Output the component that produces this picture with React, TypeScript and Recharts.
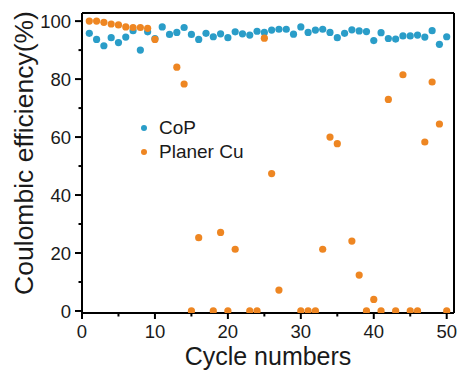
import { ScatterChart, Scatter, XAxis, YAxis, ReferenceLine, Label } from "recharts";

const FONT = "'Liberation Sans', Arial, sans-serif";
const BLUE = "#2a9dc8";
const ORANGE = "#ee8622";

const copCycles = [
  1, 2, 3, 4, 5, 6, 7, 8, 9, 10, 11, 12, 13, 14, 15, 16, 17, 18, 19, 20, 21, 22, 23, 24, 25,
  26, 27, 28, 29, 30, 31, 32, 33, 34, 35, 36, 37, 38, 39, 40, 41, 42, 43, 44, 45, 46, 47, 48, 49, 50,
];
const copEfficiency = [
  95.8, 93.7, 91.5, 94.3, 92.6, 94.5, 96.7, 90, 96.3, 94, 98, 95.4, 96.1, 97.8, 95.4, 93.7, 95.8,
  94.6, 95.6, 94.3, 96.3, 95.6, 95.2, 96.5, 96.1, 96.9, 97.2, 97.2, 95.5, 98, 96.1, 96.9, 97.2, 96.1,
  94.3, 95.8, 97, 96.6, 96.4, 93.3, 96, 94, 93.8, 94.9, 94.9, 95.2, 94.5, 96.7, 92, 94.6,
];

const cuCycles = [
  1, 2, 3, 4, 5, 6, 7, 8, 9, 10, 13, 14, 15, 16, 18, 19, 20, 21, 23, 24, 25, 26, 27,
  30, 31, 32, 33, 34, 35, 37, 38, 39, 40, 41, 42, 43, 44, 45, 46, 47, 48, 49, 50,
];
const cuEfficiency = [
  100, 100, 99.6, 99, 98.7, 98, 97.8, 97.8, 97.5, 93.7, 84.1, 78.3, 0, 25.3, 0, 27.1, 0, 21.3, 0, 0,
  94.1, 47.4, 7.2, 0, 0, 0, 21.3, 60, 57.7, 24.1, 12.4, 0, 4, 0, 73, 0, 81.5, 0, 0, 58.3, 79, 64.5, 0,
];

const seriesNames = ["CoP", "Planer Cu"];
const seriesColors = [BLUE, ORANGE];

const xTicks = [0, 5, 10, 15, 20, 25, 30, 35, 40, 45, 50];
const yTicks = [0, 10, 20, 30, 40, 50, 60, 70, 80, 90, 100];

const X_MAX = 51;
const Y_MIN = -0.7;
const Y_MAX = 102.8;

const copData = copCycles.map((c, i) => ({ cycle: c, value: copEfficiency[i] }));
const cuData = cuCycles.map((c, i) => ({ cycle: c, value: cuEfficiency[i] }));

const dot = (color: string) => (props: any) => (
  <circle cx={props.cx} cy={props.cy} r={3.6} fill={color} />
);

const XTick = ({ x, y, payload }: any) => {
  const major = payload.value % 10 === 0;
  return (
    <g>
      <line x1={x} x2={x} y1={y} y2={y + (major ? 6 : 3.5)} stroke="#000" strokeWidth={2} />
      {major && (
        <text x={x} y={y + 25} textAnchor="middle" fontSize={18.5} fontFamily={FONT} fill="#1a1a1a">
          {payload.value}
        </text>
      )}
    </g>
  );
};

const YTick = ({ x, y, payload }: any) => {
  const major = payload.value % 20 === 0;
  return (
    <g>
      <line x1={x - (major ? 7 : 3.5)} x2={x} y1={y} y2={y} stroke="#000" strokeWidth={2} />
      {major && (
        <text x={x - 11} y={y} dy="0.36em" textAnchor="end" fontSize={18.5} fontFamily={FONT} fill="#1a1a1a">
          {payload.value}
        </text>
      )}
    </g>
  );
};

export default function App() {
  return (
    <div style={{ position: "absolute", left: 0, top: 0, width: 457, height: 371, background: "#fff" }}>
      <ScatterChart width={457} height={371} margin={{ top: 13, right: 3, bottom: 0, left: 0 }}>
        <XAxis
          type="number"
          dataKey="cycle"
          domain={[0, X_MAX]}
          ticks={xTicks}
          interval={0}
          height={58}
          tickLine={false}
          tickSize={0}
          tickMargin={0}
          tick={<XTick />}
          axisLine={{ stroke: "#000", strokeWidth: 2 }}
          allowDataOverflow
        >
          <Label
            content={() => (
              <text x={268} y={365} textAnchor="middle" fontSize={25} fontFamily={FONT} fill="#1a1a1a">
                Cycle numbers
              </text>
            )}
          />
        </XAxis>
        <YAxis
          type="number"
          dataKey="value"
          domain={[Y_MIN, Y_MAX]}
          ticks={yTicks}
          interval={0}
          width={82}
          tickLine={false}
          tickSize={0}
          tickMargin={0}
          tick={<YTick />}
          axisLine={{ stroke: "#000", strokeWidth: 2 }}
          allowDataOverflow
        >
          <Label
            content={() => (
              <text
                x={33}
                y={153}
                textAnchor="middle"
                transform="rotate(-90, 33, 153)"
                fontSize={26.5}
                fontFamily={FONT}
                fill="#1a1a1a"
              >
                Coulombic efficiency(%)
              </text>
            )}
          />
        </YAxis>
        <ReferenceLine y={Y_MAX} stroke="#000" strokeWidth={2} />
        <ReferenceLine x={X_MAX} stroke="#000" strokeWidth={2} />
        <Scatter name="CoP" data={copData} fill={BLUE} shape={dot(BLUE)} isAnimationActive={false} />
        <Scatter name="Planer Cu" data={cuData} fill={ORANGE} shape={dot(ORANGE)} isAnimationActive={false} />
      </ScatterChart>
      <div
        style={{
          position: "absolute",
          left: 141,
          top: 116,
          fontFamily: FONT,
          fontSize: 19,
          lineHeight: "24px",
          color: "#1a1a1a",
        }}
      >
        {seriesNames.map((name, i) => (
          <div key={name} style={{ display: "flex", alignItems: "center" }}>
            <span
              style={{
                display: "inline-block",
                width: 6,
                height: 6,
                borderRadius: 3,
                background: seriesColors[i],
                marginRight: 12,
              }}
            />
            {name}
          </div>
        ))}
      </div>
    </div>
  );
}
